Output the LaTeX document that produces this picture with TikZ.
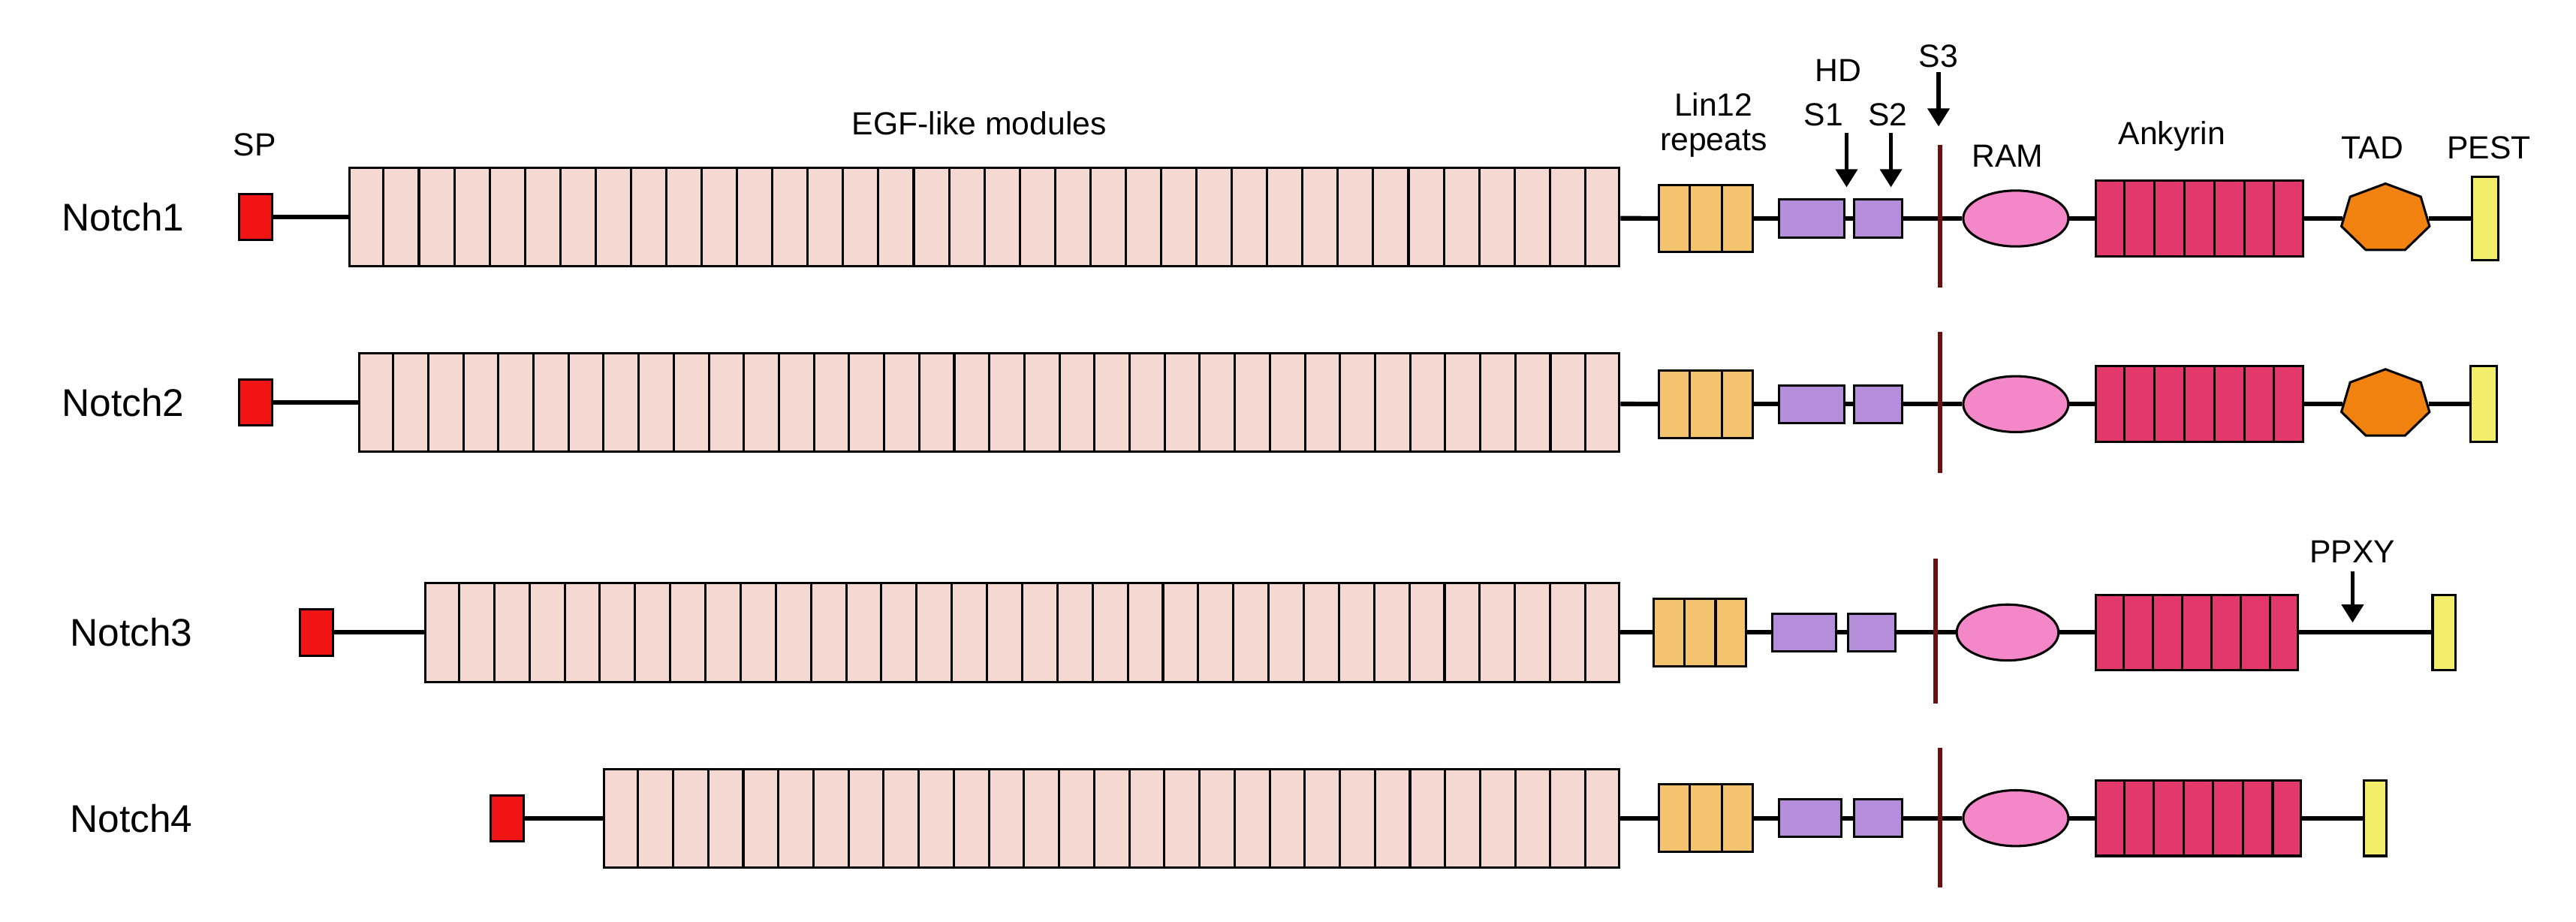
\documentclass[tikz,border=0pt]{standalone}
\usepackage{fontspec}
\setmainfont{Liberation Sans}
\usetikzlibrary{shapes.geometric,calc,arrows.meta}
\definecolor{egfc}{HTML}{F6D8D2}
\definecolor{linc}{HTML}{F3C36E}
\definecolor{purc}{HTML}{B48EDB}
\definecolor{ramc}{HTML}{F387C8}
\definecolor{ankc}{HTML}{E2386C}
\definecolor{tadc}{HTML}{F2820F}
\definecolor{pestc}{HTML}{F2EE6C}
\definecolor{spc}{HTML}{F01414}
\definecolor{tmc}{HTML}{6A1212}
\tikzset{
  dom/.style={draw=black,line width=1.4pt,inner sep=0pt,anchor=west},
  bb/.style={line width=2.8pt,black},
  tm/.style={line width=2.8pt,tmc},
  lab/.style={font=\fontsize{19.5}{21}\selectfont,inner sep=0pt},
  nm/.style={font=\fontsize{23.5}{25}\selectfont,inner sep=0pt},
  arr/.style={line width=2.6pt,-{Triangle[length=11pt,width=13pt]}},
}
% name, x1, x2, yc, h, n, fill
\newcommand\modbox[7]{%
  \node[dom,fill=#7,minimum width={(#3-#2)*1pt},minimum height=#5pt] (#1) at (#2,#4) {};
  \pgfmathtruncatemacro\nnm{#6-1}%
  \foreach \k in {1,...,\nnm}{\draw[line width=1.4pt] ($(#1.north west)!\k/#6!(#1.north east)$) -- ($(#1.south west)!\k/#6!(#1.south east)$);}%
}
\newcommand\plainbox[6]{%
  \node[dom,fill=#6,minimum width={(#3-#2)*1pt},minimum height=#5pt] (#1) at (#2,#4) {};%
}
\begin{document}
\begin{tikzpicture}[x=1pt,y=-1pt]
\useasboundingbox (0,0) rectangle (1568,561);
% ---------- labels on top
\node[lab] (lsp) at (155,88) {SP};
\node[lab] (legf) at (596,75) {EGF-like modules};
\node[lab,align=center] (llin) at (1043,76) {Lin12\\repeats};
\node[lab] (lhd) at (1119,43) {HD};
\node[lab] (ls1) at (1110,70) {S1};
\node[lab] (ls2) at (1149,70) {S2};
\node[lab] (ls3) at (1180,34) {S3};
\node[lab] (lram) at (1222,95) {RAM};
\node[lab] (lank) at (1322,83) {Ankyrin};
\node[lab] (ltad) at (1444,90) {TAD};
\node[lab] (lpest) at (1515,90) {PEST};
\coordinate (a1t) at (1124,81); \coordinate (a1b) at (1124,114);
\coordinate (a2t) at (1151,81); \coordinate (a2b) at (1151,114);
\coordinate (a3t) at (1180,44); \coordinate (a3b) at (1180,77);
\draw[arr] (a1t) -- (a1b);
\draw[arr] (a2t) -- (a2b);
\draw[arr] (a3t) -- (a3b);
% ---------- Notch1
\node[nm] (n1) at (75,132) {Notch1};
\plainbox{sp1}{145}{165}{132}{28}{spc}
\modbox{egf1}{212}{985}{132}{60}{36}{egfc}
\modbox{lin1}{1009}{1066}{133}{41}{3}{linc}
\plainbox{pa1}{1082}{1122}{133}{23}{purc}
\plainbox{pb1}{1128}{1157}{133}{23}{purc}
\node[ellipse,draw,line width=1.4pt,fill=ramc,minimum width=64pt,minimum height=34pt,inner sep=0] (ram1) at (1227,133) {};
\modbox{ank1}{1275}{1401}{133}{46}{7}{ankc}
\node[regular polygon,regular polygon sides=7,draw,line width=1.4pt,fill=tadc,minimum size=50pt,inner sep=0,xscale=1.1,yscale=0.85,transform shape] (tad1) at (1452,133) {};
\plainbox{pe1}{1504}{1520}{133}{51}{pestc}
\draw[bb] (sp1) -- (egf1); \draw[bb] (egf1) -- (lin1); \draw[bb] (lin1) -- (pa1);
\draw[bb] (pa1) -- (pb1); \draw[bb] (pb1) -- (ram1); \draw[bb] (ram1) -- (ank1);
\draw[bb] (ank1) -- (tad1); \draw[bb] (tad1) -- (pe1);
\coordinate (t1a) at (1181,88); \coordinate (t1b) at (1181,175);
\draw[tm] (t1a) -- (t1b);
% ---------- Notch2
\node[nm] (n2) at (75,245) {Notch2};
\plainbox{sp2}{145}{165}{245}{28}{spc}
\modbox{egf2}{218}{985}{245}{60}{36}{egfc}
\modbox{lin2}{1009}{1066}{246}{41}{3}{linc}
\plainbox{pa2}{1082}{1122}{246}{23}{purc}
\plainbox{pb2}{1128}{1157}{246}{23}{purc}
\node[ellipse,draw,line width=1.4pt,fill=ramc,minimum width=64pt,minimum height=34pt,inner sep=0] (ram2) at (1227,246) {};
\modbox{ank2}{1275}{1401}{246}{46}{7}{ankc}
\node[regular polygon,regular polygon sides=7,draw,line width=1.4pt,fill=tadc,minimum size=50pt,inner sep=0,xscale=1.1,yscale=0.85,transform shape] (tad2) at (1452,246) {};
\plainbox{pe2}{1503}{1519}{246}{46}{pestc}
\draw[bb] (sp2) -- (egf2); \draw[bb] (egf2) -- (lin2); \draw[bb] (lin2) -- (pa2);
\draw[bb] (pa2) -- (pb2); \draw[bb] (pb2) -- (ram2); \draw[bb] (ram2) -- (ank2);
\draw[bb] (ank2) -- (tad2); \draw[bb] (tad2) -- (pe2);
\coordinate (t2a) at (1181,202); \coordinate (t2b) at (1181,288);
\draw[tm] (t2a) -- (t2b);
% ---------- Notch3
\node[nm] (n3) at (80,385) {Notch3};
\plainbox{sp3}{182}{202}{385}{28}{spc}
\modbox{egf3}{258}{985}{385}{60}{34}{egfc}
\modbox{lin3}{1006}{1062}{385}{41}{3}{linc}
\plainbox{pa3}{1078}{1117}{385}{23}{purc}
\plainbox{pb3}{1124}{1153}{385}{23}{purc}
\node[ellipse,draw,line width=1.4pt,fill=ramc,minimum width=62pt,minimum height=34pt,inner sep=0] (ram3) at (1222,385) {};
\modbox{ank3}{1275}{1398}{385}{46}{7}{ankc}
\plainbox{pe3}{1480}{1494}{385}{46}{pestc}
\draw[bb] (sp3) -- (egf3); \draw[bb] (egf3) -- (lin3); \draw[bb] (lin3) -- (pa3);
\draw[bb] (pa3) -- (pb3); \draw[bb] (pb3) -- (ram3); \draw[bb] (ram3) -- (ank3);
\draw[bb] (ank3) -- (pe3);
\coordinate (t3a) at (1178,340); \coordinate (t3b) at (1178,428);
\draw[tm] (t3a) -- (t3b);
\node[lab] (lppxy) at (1432,336) {PPXY};
\coordinate (a4t) at (1432,348); \coordinate (a4b) at (1432,379);
\draw[arr] (a4t) -- (a4b);
% ---------- Notch4
\node[nm] (n4) at (80,498) {Notch4};
\plainbox{sp4}{298}{318}{498}{28}{spc}
\modbox{egf4}{367}{985}{498}{60}{29}{egfc}
\modbox{lin4}{1009}{1066}{498}{41}{3}{linc}
\plainbox{pa4}{1082}{1120}{498}{23}{purc}
\plainbox{pb4}{1128}{1157}{498}{23}{purc}
\node[ellipse,draw,line width=1.4pt,fill=ramc,minimum width=64pt,minimum height=34pt,inner sep=0] (ram4) at (1227,498) {};
\modbox{ank4}{1275}{1400}{498}{46}{7}{ankc}
\plainbox{pe4}{1438}{1452}{498}{46}{pestc}
\draw[bb] (sp4) -- (egf4); \draw[bb] (egf4) -- (lin4); \draw[bb] (lin4) -- (pa4);
\draw[bb] (pa4) -- (pb4); \draw[bb] (pb4) -- (ram4); \draw[bb] (ram4) -- (ank4);
\draw[bb] (ank4) -- (pe4);
\coordinate (t4a) at (1181,455); \coordinate (t4b) at (1181,540);
\draw[tm] (t4a) -- (t4b);
\end{tikzpicture}
\end{document}
